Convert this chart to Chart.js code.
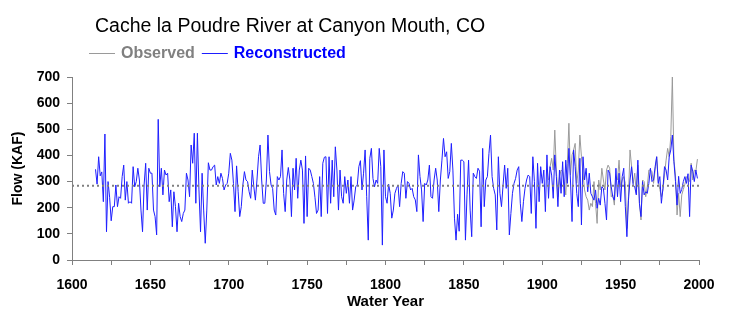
<!DOCTYPE html>
<html>
<head>
<meta charset="utf-8">
<script src="https://cdn.jsdelivr.net/npm/chart.js@4.4.1/dist/chart.umd.min.js"></script>
<style>
  body { margin: 0; background: #fff; }
  #flowChart { display: block; }
</style>
</head>
<body>
<canvas id="flowChart" width="741" height="325"></canvas>
<script>
const chartTitle = 'Cache la Poudre River at Canyon Mouth, CO';

// annual flow, thousand acre-feet
const reconStart = 1615;
const reconFlow = [
  347, 290, 395, 322, 337,
  223, 482, 108, 300, 240, 150, 204, 204, 287, 204,
  242, 236, 319, 363, 229, 300, 217, 223, 217, 357,
  280, 300, 351, 306, 191, 108, 287, 370, 191, 351,
  332, 332, 191, 166, 96, 538, 280, 351, 249, 344,
  325, 332, 223, 268, 127, 261, 204, 108, 217, 166,
  147, 178, 191, 332, 306, 242, 440, 370, 485, 217,
  485, 268, 108, 332, 191, 64, 191, 372, 344, 344,
  357, 363, 287, 319, 293, 332, 312, 268, 287, 293,
  332, 408, 382, 293, 185, 360, 261, 166, 204, 287,
  338, 306, 300, 261, 236, 344, 280, 229, 306, 395,
  440, 306, 217, 217, 306, 478, 338, 287, 274, 191,
  172, 319, 306, 319, 421, 255, 185, 306, 354, 306,
  166, 351, 268, 389, 236, 344, 382, 344, 140, 398,
  166, 351, 344, 319, 293, 240, 178, 191, 319, 166,
  370, 393, 395, 178, 395, 217, 382, 242, 433, 344,
  191, 344, 242, 217, 319, 255, 306, 217, 319, 191,
  229, 280, 287, 357, 380, 268, 332, 421, 242, 76,
  389, 427, 312, 280, 306, 293, 427, 357, 57, 421,
  242, 217, 290, 255, 160, 191, 255, 274, 287, 204,
  293, 338, 332, 236, 300, 293, 268, 274, 242, 230,
  185, 402, 319, 268, 147, 293, 287, 306, 363, 242,
  236, 306, 351, 306, 185, 306, 382, 465, 395, 414,
  312, 338, 446, 344, 160, 76, 175, 110, 382, 382,
  376, 76, 249, 382, 191, 89, 332, 319, 312, 351,
  340, 127, 427, 204, 306, 319, 408, 478, 319, 274,
  249, 115, 395, 255, 204, 287, 363, 274, 351, 96,
  178, 255, 293, 312, 344, 357, 217, 147, 223, 274,
  306, 325, 319, 178, 395, 300, 121, 370, 223, 357,
  293, 344, 185, 402, 236, 357, 325, 236, 402, 319,
  204, 344, 255, 376, 242, 382, 293, 427, 306, 147,
  421, 357, 255, 204, 389, 134, 395, 306, 351, 261,
  332, 255, 242, 229, 268, 198, 236, 210, 280, 274,
  217, 153, 344, 332, 280, 242, 229, 351, 242, 332,
  223, 319, 351, 204, 89, 229, 306, 357, 287, 280,
  249, 382, 217, 166, 300, 249, 261, 255, 293, 351,
  300, 306, 357, 395, 293, 319, 217, 274, 357, 344,
  306, 395, 421, 478, 376, 300, 210, 320, 255, 270,
  300, 319, 293, 330, 166, 363, 340, 300, 344, 312
];

const obsStart = 1904;
const obsFlow = [
  306, 357, 389, 344, 497, 344,
  242, 319, 344, 338, 300, 249, 370, 523, 325, 402,
  421, 446, 293, 344, 478, 395, 332, 268, 242, 229,
  191, 217, 204, 300, 217, 140, 306, 268, 351, 306,
  268, 344, 363, 351, 242, 249, 210, 319, 306, 382,
  280, 306, 319, 293, 120, 242, 421, 357, 293, 332,
  255, 363, 217, 153, 306, 300, 242, 280, 344, 344,
  338, 293, 344, 395, 300, 270, 242, 268, 325, 382,
  427, 395, 472, 700, 383, 325, 172, 255, 166, 249,
  270, 290, 319, 312, 300, 370, 306, 344, 340, 386
];

const meanFlow = 284;
const yearRange = [1600, 2000];
const legendOrder = ['Observed', 'Reconstructed'];

const FONT = '"Liberation Sans", Arial, sans-serif';
const OBS_COLOR = '#9a9a9a';
const RECON_COLOR = '#1e1eff';

function toPoints(start, values) {
  return values.map((v, i) => ({ x: start + i, y: v }));
}

// title and line legend sit above the plot, left of centre
const headerPlugin = {
  id: 'header',
  afterDraw(chart) {
    const ctx = chart.ctx;
    ctx.save();
    ctx.fillStyle = '#000';
    ctx.font = '19.5px ' + FONT;
    ctx.textBaseline = 'alphabetic';
    ctx.fillText(chartTitle, 95, 32);

    ctx.font = 'bold 16px ' + FONT;
    ctx.textBaseline = 'middle';
    let x = 89;
    const y = 53;
    legendOrder.forEach(name => {
      const d = chart.data.datasets.find(ds => ds.label === name);
      ctx.strokeStyle = d.borderColor;
      ctx.lineWidth = 1;
      ctx.beginPath();
      ctx.moveTo(x, y + 0.5);
      ctx.lineTo(x + 26, y + 0.5);
      ctx.stroke();
      ctx.fillStyle = d.legendText;
      ctx.fillText(d.label, x + 32, y + 1);
      x += 32 + ctx.measureText(d.label).width + 7;
    });
    ctx.restore();
  }
};

const chartLayout = document.getElementById('flowChart');

const flowChart = new Chart(chartLayout, {
  type: 'line',
  data: {
    datasets: [
      {
        label: 'Mean',
        data: [{ x: yearRange[0], y: meanFlow }, { x: yearRange[1], y: meanFlow }],
        borderColor: '#7f7f7f',
        borderWidth: 2,
        borderDash: [2, 3],
        pointRadius: 0
      },
      {
        label: 'Reconstructed',
        data: toPoints(reconStart, reconFlow),
        borderColor: RECON_COLOR,
        legendText: '#0000ff',
        borderWidth: 1,
        pointRadius: 0
      },
      {
        label: 'Observed',
        data: toPoints(obsStart, obsFlow),
        borderColor: OBS_COLOR,
        legendText: '#808080',
        borderWidth: 1,
        pointRadius: 0
      }
    ]
  },
  options: {
    responsive: false,
    animation: false,
    devicePixelRatio: 1,
    layout: { padding: { top: 77, right: 42, left: 0, bottom: 0 } },
    plugins: {
      legend: { display: false },
      title: { display: false },
      tooltip: { enabled: false }
    },
    elements: { line: { tension: 0 } },
    scales: {
      x: {
        type: 'linear',
        min: yearRange[0],
        max: yearRange[1],
        afterFit: s => { s.height = 65; },
        grid: { drawOnChartArea: false, drawTicks: true, tickLength: 5, color: '#808080' },
        border: { display: true, color: '#808080' },
        ticks: {
          stepSize: 25,
          autoSkip: false,
          maxRotation: 0,
          padding: 12,
          color: '#000',
          font: { family: FONT, size: 14, weight: 'bold' },
          callback: v => (v % 50 === 0 ? String(v) : '')
        },
        title: {
          display: true,
          text: 'Water Year',
          color: '#000',
          font: { family: FONT, size: 15, weight: 'bold' },
          padding: { top: 0, bottom: 14 }
        }
      },
      y: {
        min: 0,
        max: 700,
        afterFit: s => { s.width = 72; },
        grid: { drawOnChartArea: false, drawTicks: true, tickLength: 5, color: '#808080' },
        border: { display: true, color: '#808080' },
        ticks: {
          stepSize: 50,
          padding: 7,
          color: '#000',
          font: { family: FONT, size: 14, weight: 'bold' },
          callback: v => (v % 100 === 0 ? String(v) : '')
        },
        title: {
          display: true,
          text: 'Flow (KAF)',
          color: '#000',
          font: { family: FONT, size: 14, weight: 'bold' },
          padding: { top: 10, bottom: 0 }
        }
      }
    }
  },
  plugins: [headerPlugin]
});
</script>
</body>
</html>
